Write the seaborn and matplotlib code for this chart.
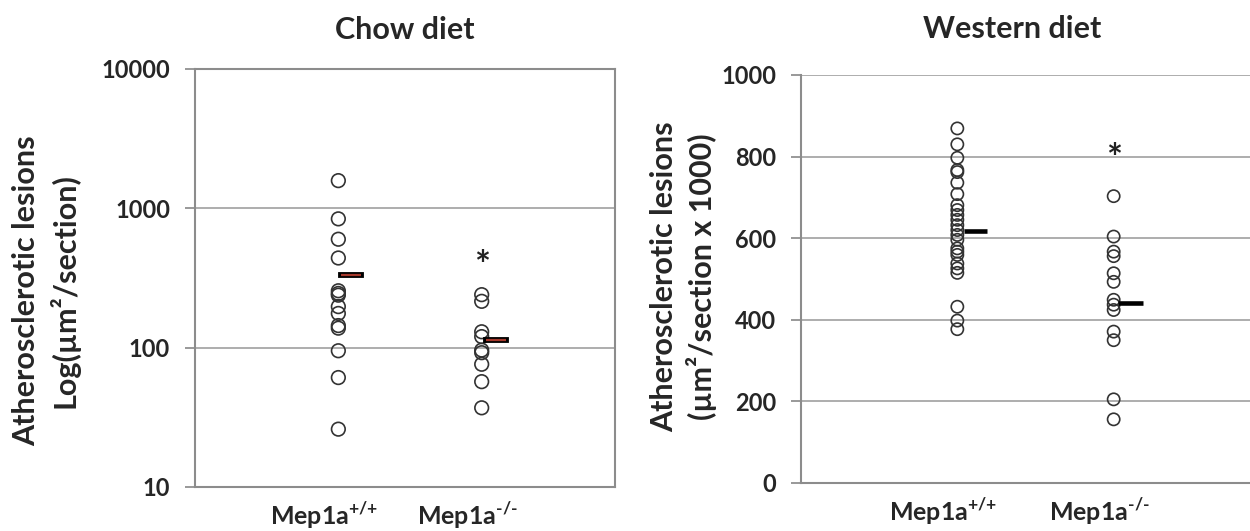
import pandas as pd
import seaborn as sns
import matplotlib.pyplot as plt
import matplotlib.patheffects as pe
from matplotlib.transforms import ScaledTranslation

# genotypes
groups = ["Mep1a+/+", "Mep1a-/-"]
group_labels = [r"Mep1a$^{\text{+/+}}$", r"Mep1a$^{\text{-/-}}$"]

# chow diet, lesion area (um2/section), log axis
chow_wt = [1580, 840, 600, 440, 256, 245, 238, 197, 176, 144, 138, 95, 61, 26]
chow_ko = [240, 215, 130, 120, 96, 92, 76, 57, 37]
chow_means = [330, 113]
chow_star = 380
chow_yticks = [10, 100, 1000, 10000]

# western diet, lesion area (um2/section x 1000)
western_wt = [869, 830, 797, 767, 762, 736, 708, 681, 669, 657, 645, 632, 620,
              608, 596, 575, 567, 559, 538, 526, 515, 432, 398, 377]
western_ko = [703, 604, 567, 556, 514, 493, 449, 437, 424, 371, 350, 205, 156]
western_means = [617, 440]
western_star = 792
western_yticks = [0, 200, 400, 600, 800, 1000]


def long_table(wt, ko):
    return pd.DataFrame({
        "genotype": [groups[0]] * len(wt) + [groups[1]] * len(ko),
        "value": wt + ko,
    })


sns.set_theme(style="white")
plt.rcParams["font.family"] = ["Lato", "DejaVu Sans"]
plt.rcParams["font.weight"] = "bold"
plt.rcParams["mathtext.fontset"] = "custom"
plt.rcParams["mathtext.rm"] = "Lato:bold"
plt.rcParams["mathtext.bf"] = "Lato:bold"

GRID = "#a0a0a0"
SPINE = "#8c8c8c"

fig = plt.figure(figsize=(12.5, 5.31), dpi=100)
ax1 = fig.add_axes([0.156, 0.0829, 0.336, 0.7872])
ax2 = fig.add_axes([0.6408, 0.0904, 0.3752, 0.7684])


def draw_panel(ax, df, msize):
    sns.stripplot(data=df, x="genotype", y="value", order=groups, jitter=False,
                  color="white", edgecolor="#333333", linewidth=1.2, size=msize,
                  ax=ax, zorder=3)
    for coll in ax.collections:
        coll.set_facecolor("none")
    ax.set_xlabel("")
    ax.set_ylabel("")
    ax.set_axisbelow(True)
    ax.grid(axis="y", color=GRID, linewidth=1.2)
    ax.grid(axis="x", visible=False)
    ax.set_xticks([0, 1])
    ax.set_xticklabels(group_labels, fontsize=18, fontweight="bold")
    ax.tick_params(axis="x", length=3, color=SPINE, pad=6)
    ax.tick_params(axis="y", length=7, color=SPINE, labelsize=17, pad=11,
                   left=True)
    for lab in ax.get_xticklabels():
        lab.set_transform(lab.get_transform()
                          + ScaledTranslation(-0.14, 0, fig.dpi_scale_trans))
    for s in ax.spines.values():
        s.set_color(SPINE)
        s.set_linewidth(1.5)


# chow diet panel
draw_panel(ax1, long_table(chow_wt, chow_ko), 9.8)
ax1.set_yscale("log")
ax1.set_ylim(10, 10000)
ax1.set_yticks(chow_yticks)
ax1.set_yticklabels([str(v) for v in chow_yticks])
ax1.minorticks_off()
ax1.set_xlim(-1, 1.93)
ax1.hlines(chow_means, [0.02, 1.03], [0.16, 1.17], color="#a5382b", linewidth=1.6,
           zorder=4,
           path_effects=[pe.Stroke(linewidth=4.2, foreground="black",
                                   capstyle="projecting"), pe.Normal()])
ax1.text(1, chow_star, "*", ha="center", va="center", fontsize=27, color="#222222")

# western diet panel
draw_panel(ax2, long_table(western_wt, western_ko), 8.8)
ax2.set_ylim(0, 1000)
ax2.set_yticks(western_yticks)
ax2.set_yticklabels([str(v) for v in western_yticks])
ax2.set_xlim(-1, 2)
ax2.spines["top"].set_visible(False)
ax2.spines["right"].set_visible(False)
ax2.hlines(western_means, [0.04, 1.03], [0.19, 1.19], color="black", linewidth=3.3,
           zorder=4)
ax2.text(1, western_star, "*", ha="center", va="center", fontsize=27, color="#222222")

# titles and axis titles
fig.text(405 / 1250, 1 - 30 / 531, "Chow diet", ha="center", va="center",
         fontsize=22, fontweight="bold")
fig.text(1012 / 1250, 1 - 29 / 531, "Western diet", ha="center", va="center",
         fontsize=22, fontweight="bold")
fig.text(46 / 1250, 1 - 291 / 531, "Atherosclerotic lesions\nLog(µm²/section)",
         rotation=90, ha="center", va="center", multialignment="center",
         fontsize=22, fontweight="bold", linespacing=1.3)
fig.text(684 / 1250, 1 - 277 / 531, "Atherosclerotic lesions\n(µm²/section x 1000)",
         rotation=90, ha="center", va="center", multialignment="center",
         fontsize=22, fontweight="bold", linespacing=1.3)

fig.savefig("out.png", dpi=100)
